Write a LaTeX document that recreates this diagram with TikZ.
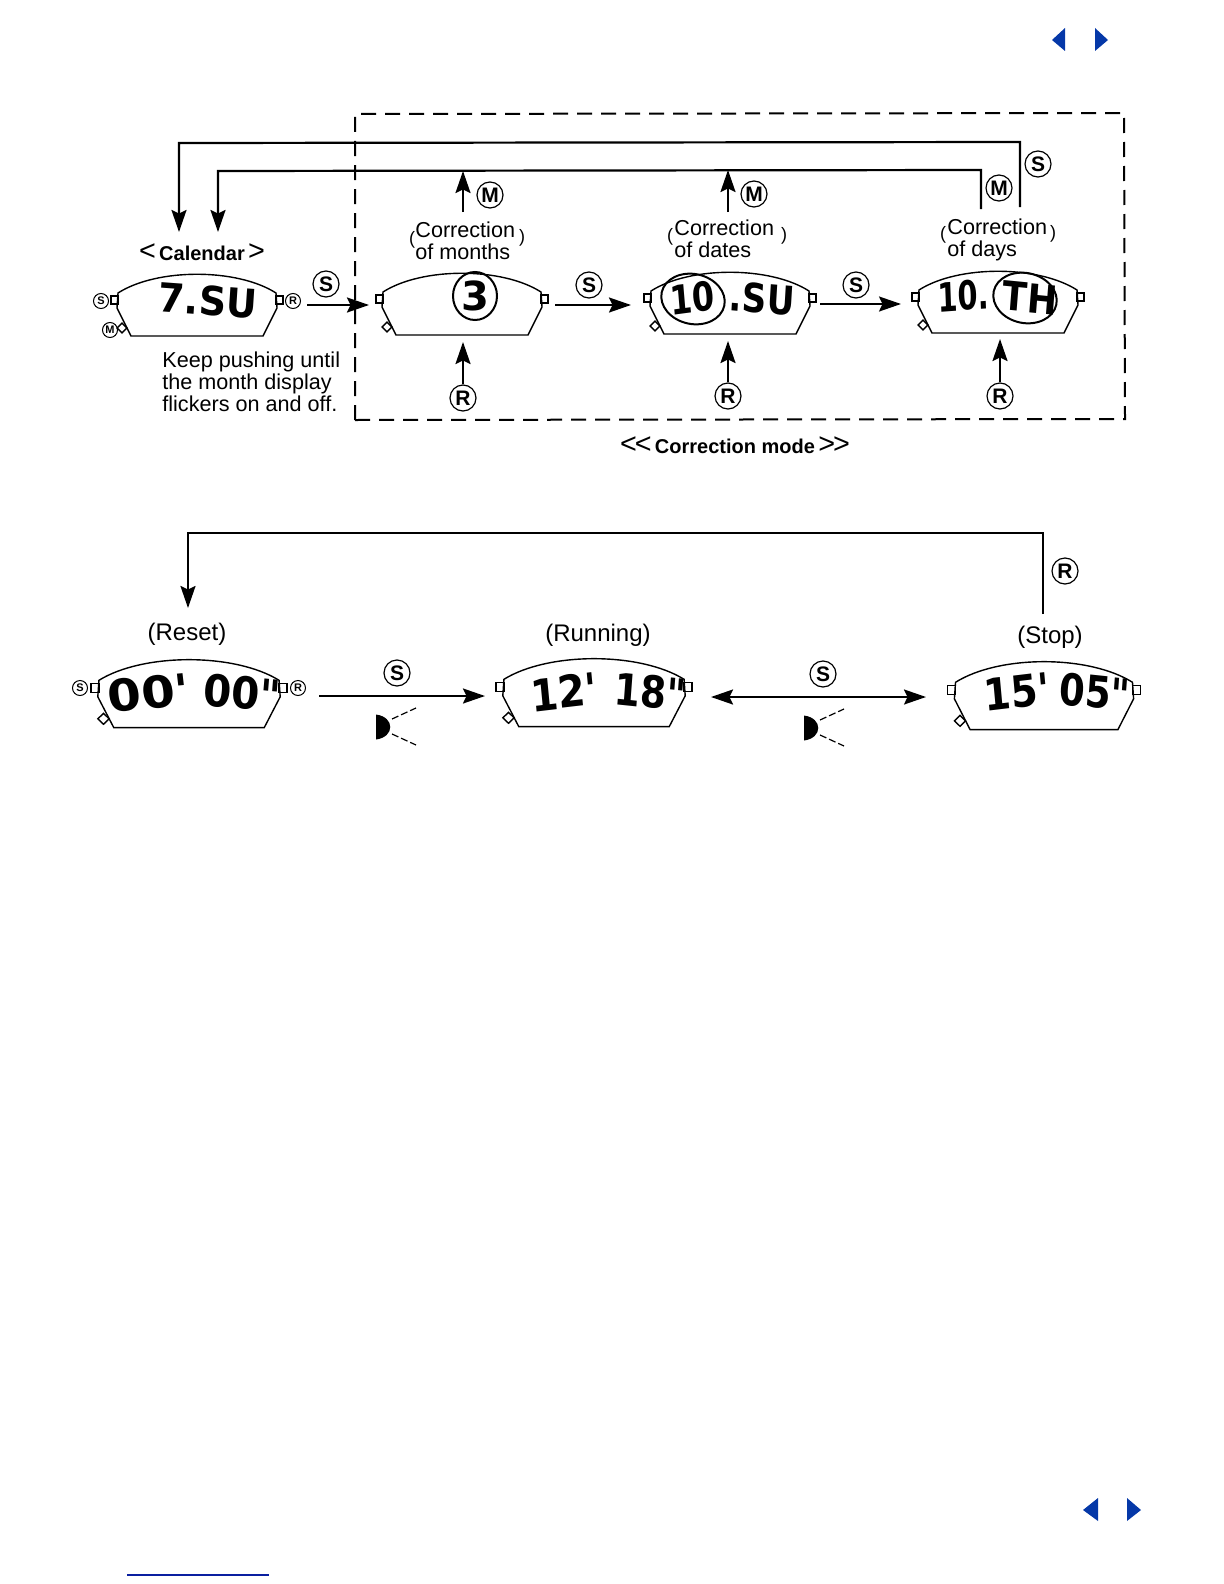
\documentclass[tikz,border=0pt]{standalone}
\usepackage{fontspec}
\setmainfont{Liberation Sans}
\newfontfamily\lcdfont{DejaVu Sans}
\usetikzlibrary{positioning,arrows.meta,shapes.geometric}

\tikzset{
	head/.tip={Stealth[length=11pt,width=7.5pt,inset=1.8pt]},
	flow/.style={line width=1.1pt,-head},
	btn/.style={circle,draw,line width=0.6pt,inner sep=0pt,minimum size=13pt,font=\fontsize{10.5}{11}\bfseries\selectfont},
	tinybtn/.style={circle,draw,line width=0.5pt,inner sep=0pt,minimum size=7.5pt,font=\fontsize{5.5}{6}\bfseries\selectfont},
	lbl/.style={inner sep=0pt,align=left,font=\fontsize{10.8}{11}\selectfont},
	state/.style={inner sep=0pt,font=\fontsize{12}{13}\selectfont},
	paren/.style={inner sep=0pt,font=\fontsize{9}{10}\selectfont},
	lcd/.style={inner sep=0pt,font=\lcdfont\fontsize{20}{20}\bfseries\selectfont},
	lcdbig/.style={inner sep=0pt,font=\lcdfont\fontsize{22}{22}\bfseries\selectfont},
	ring/.style={draw,ellipse,line width=1pt,inner sep=0pt},
	nav/.style={fill=navblue,draw=none}
}
\definecolor{navblue}{HTML}{0538A8}
\definecolor{linkblue}{HTML}{0A1FA0}

% x, y, scale x, scale y
\newcommand{\watchface}[4]{
	\begin{scope}[shift={(#1,#2)},xscale=#3,yscale=#4,line width=0.7pt]
		\draw (-79,-7) .. controls (-40,-32) and (40,-32) .. (79,-7) -- (80,8) -- (66,36) -- (-66,36) -- (-80,8) -- cycle;
		\draw (-86,-4) rectangle (-79,4);
		\draw (79,-4) rectangle (86,4);
		\draw[rotate around={45:(-75,28)}] (-78.5,24.5) rectangle (-71.5,31.5);
	\end{scope}
}
\newcommand{\speaker}[2]{
	\fill (#1,#2-12.5) .. controls (#1+19,#2-10) and (#1+19,#2+10) .. (#1,#2+12.5) -- cycle;
	\draw[line width=0.6pt,dash pattern=on 3.5pt off 1.5pt] (#1+16,#2-8) -- (#1+40,#2-19);
	\draw[line width=0.6pt,dash pattern=on 3.5pt off 1.5pt] (#1+16,#2+7) -- (#1+40,#2+18);
}

\begin{document}
\begin{tikzpicture}[x=0.5pt,y=-0.5pt]
	\useasboundingbox (0,0) rectangle (1224,1584);

	% navigation
	\fill[nav] (1052,40) -- (1065,28) -- (1065,51) -- cycle;
	\fill[nav] (1108,40) -- (1095,28) -- (1095,51) -- cycle;
	\fill[nav] (1083,1510) -- (1098,1498) -- (1098,1521) -- cycle;
	\fill[nav] (1141,1510) -- (1127,1498) -- (1127,1521) -- cycle;
	\draw[linkblue,line width=0.8pt] (127,1575) -- (269,1575);

	% correction mode frame
	\draw[line width=1pt,dash pattern=on 7.5pt off 4.5pt] (355,420) -- (355,114) -- (1124,113) -- (1125,419) -- cycle;

	% watches, upper row
	\watchface{197}{300}{1}{1}
	\watchface{462}{299}{1}{1}
	\watchface{730}{298}{1}{1}
	\watchface{998}{297}{1}{1}

	\node[lcd,xscale=.95,rotate=-4] (txt1) at (208,301) {7.SU};
	\node[lcd] (txt2) at (475,296) {3};
	\node[lcd,xscale=.8,rotate=6] (txt3a) at (692,298) {10};
	\node[lcd,xscale=.85,rotate=-4] (txt3b) at (762,299) {.SU};
	\node[lcd,xscale=.72,rotate=3] (txt4a) at (963,296) {10.};
	\node[lcd,xscale=.9,rotate=-5] (txt4b) at (1030,298) {TH};

	\node[ring,minimum width=22pt,minimum height=24pt] (ring2) at (475,296) {};
	\node[ring,minimum width=32pt,minimum height=25pt,rotate=-12] (ring3) at (693,299) {};
	\node[ring,minimum width=32pt,minimum height=25pt,rotate=-12] (ring4) at (1025,298) {};

	% watches, lower row
	\watchface{189}{688}{1.14}{1.1}
	\watchface{594}{687}{1.14}{1.1}
	\watchface{1044}{690}{1.12}{1.1}

	\node[lcdbig,xscale=1.1,rotate=6] (txt5a) at (149,693) {00'};
	\node[lcdbig,xscale=.92,rotate=-5] (txt5b) at (242,693) {00"};
	\node[lcdbig,xscale=.9,rotate=6] (txt6a) at (564,692) {12'};
	\node[lcdbig,xscale=.85,rotate=-5] (txt6b) at (650,692) {18"};
	\node[lcdbig,xscale=.88,rotate=6] (txt7a) at (1017,692) {15'};
	\node[lcdbig,xscale=.84,rotate=-5] (txt7b) at (1095,692) {05"};

	% labels
	\node[font=\fontsize{10}{11}\bfseries\selectfont,inner sep=0pt] (calendar) at (202,252) {{\mdseries\Large<}\,Calendar\,{\mdseries\Large>}};
	\node[lbl,anchor=north west] (keep) at (162,351) {Keep pushing until\\the month display\\flickers on and off.};
	\node[font=\fontsize{10}{11}\bfseries\selectfont,inner sep=0pt] (cmode) at (735,445) {{\mdseries\Large<\kern-1pt<}\,Correction mode\,{\mdseries\Large>\kern-1pt>}};

	\node[lbl,anchor=north west] (corr1) at (415,221) {Correction\\of months};
	\node[paren] (pl1) at (412,240) {(};
	\node[paren] (pr1) at (522,238) {)};
	\node[lbl,anchor=north west] (corr2) at (674,219) {Correction\\of dates};
	\node[paren] (pl2) at (670,237) {(};
	\node[paren] (pr2) at (784,236) {)};
	\node[lbl,anchor=north west] (corr3) at (947,218) {Correction\\of days};
	\node[paren] (pl3) at (943,235) {(};
	\node[paren] (pr3) at (1053,234) {)};

	\node[state] (reset) at (187,634) {(Reset)};
	\node[state] (running) at (598,635) {(Running)};
	\node[state] (stop) at (1050,637) {(Stop)};

	% push buttons
	\node[tinybtn] (s0) at (101,301) {S};
	\node[tinybtn] (r0) at (293,301) {R};
	\node[tinybtn] (m0) at (110,330) {M};
	\node[btn] (s1) at (326,284) {S};
	\node[btn] (s2) at (589,285) {S};
	\node[btn] (s3) at (856,285) {S};
	\node[btn] (s4) at (1038,164) {S};
	\node[btn] (m1) at (490,195) {M};
	\node[btn] (m2) at (754,194) {M};
	\node[btn] (m3) at (999,188) {M};
	\node[btn] (r1) at (463,398) {R};
	\node[btn] (r2) at (728,396) {R};
	\node[btn] (r3) at (1000,396) {R};

	\node[tinybtn] (s5) at (80,688) {S};
	\node[tinybtn] (r5) at (298,688) {R};
	\node[btn] (s6) at (397,673) {S};
	\node[btn] (s7) at (823,674) {S};
	\node[btn] (r6) at (1065,571) {R};

	% arrow ends
	\coordinate (a1) at (307,305);
	\coordinate (a2) at (369,305);
	\coordinate (a3) at (555,305);
	\coordinate (a4) at (631,305);
	\coordinate (a5) at (820,304);
	\coordinate (a6) at (901,304);
	\coordinate (b1) at (463,342);
	\coordinate (b2) at (728,341);
	\coordinate (b3) at (1000,339);
	\coordinate (c1) at (463,212);
	\coordinate (c2) at (463,171);
	\coordinate (c3) at (728,212);
	\coordinate (c4) at (728,170);
	\coordinate (d1) at (1020,207);
	\coordinate (d2) at (1020,142);
	\coordinate (d3) at (179,143);
	\coordinate (d4) at (179,232);
	\coordinate (e1) at (981,209);
	\coordinate (e2) at (981,170);
	\coordinate (e3) at (218,171);
	\coordinate (e4) at (218,232);
	\coordinate (f1) at (1043,614);
	\coordinate (f2) at (1043,533);
	\coordinate (f3) at (188,533);
	\coordinate (f4) at (188,608);
	\coordinate (g1) at (319,696);
	\coordinate (g2) at (485,696);
	\coordinate (g3) at (711,697);
	\coordinate (g4) at (926,697);

	\draw[flow] (a1) -- (a2);
	\draw[flow] (a3) -- (a4);
	\draw[flow] (a5) -- (a6);
	\draw[flow] (r1) -- (b1);
	\draw[flow] (r2) -- (b2);
	\draw[flow] (r3) -- (b3);
	\draw[flow] (c1) -- (c2);
	\draw[flow] (c3) -- (c4);
	\draw[flow] (d1) -- (d2) -- (d3) -- (d4);
	\draw[flow] (e1) -- (e2) -- (e3) -- (e4);
	\draw[flow] (f1) -- (f2) -- (f3) -- (f4);
	\draw[flow] (g1) -- (g2);
	\draw[flow,head-head] (g3) -- (g4);

	% beepers
	\speaker{376}{727}
	\speaker{804}{728}
\end{tikzpicture}
\end{document}
